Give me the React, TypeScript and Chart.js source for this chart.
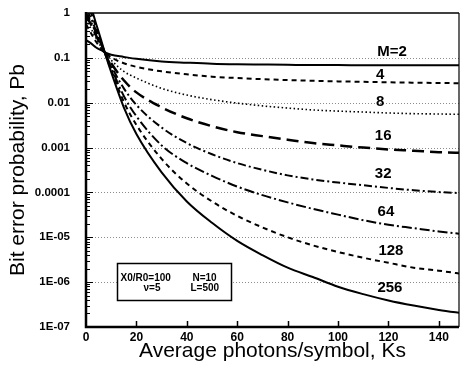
import React, { useEffect, useRef } from 'react';
import { Chart, registerables } from 'chart.js';

Chart.register(...registerables);

// Average photons per symbol (Ks)
const photons = [0, 2, 4, 6, 8, 10, 15, 20, 30, 40, 50, 60, 70, 80, 90, 100, 110, 120, 130, 140, 150];

// Bit error probability for each alphabet size M
const pbM2 = [0.25, 0.21, 0.17, 0.148, 0.129, 0.117, 0.105, 0.095, 0.083, 0.078, 0.074, 0.072, 0.071, 0.07, 0.069, 0.069, 0.068, 0.068, 0.068, 0.068, 0.068];
const pbM4 = [0.56, 0.355, 0.229, 0.162, 0.126, 0.102, 0.076, 0.063, 0.05, 0.043, 0.038, 0.0355, 0.0335, 0.032, 0.0309, 0.0299, 0.0292, 0.0285, 0.028, 0.0275, 0.0272];
const pbM8 = [0.71, 0.447, 0.275, 0.174, 0.12, 0.089, 0.05, 0.0355, 0.0209, 0.0148, 0.0117, 0.0098, 0.0085, 0.0076, 0.0069, 0.0065, 0.0062, 0.0059, 0.0057, 0.0056, 0.0055];
const pbM16 = [0.89, 0.55, 0.316, 0.186, 0.117, 0.076, 0.0316, 0.017, 0.0079, 0.0045, 0.003, 0.0022, 0.0018, 0.0015, 0.00126, 0.00112, 0.001, 0.00091, 0.00085, 0.00079, 0.00076];
const pbM32 = [1.0, 0.63, 0.355, 0.2, 0.112, 0.066, 0.0209, 0.0089, 0.0028, 0.00126, 0.00071, 0.00045, 0.00032, 0.00024, 0.000195, 0.000166, 0.000145, 0.000126, 0.000112, 0.000102, 0.000096];
const pbM64 = [1.26, 0.76, 0.4, 0.209, 0.11, 0.06, 0.0141, 0.005, 0.00112, 0.00045, 0.000234, 0.000135, 8.7e-5, 6.0e-5, 4.3e-5, 3.2e-5, 2.4e-5, 1.9e-5, 1.6e-5, 1.35e-5, 1.17e-5];
const pbM128 = [1.58, 1.0, 0.48, 0.224, 0.107, 0.054, 0.0105, 0.0032, 0.00056, 0.000158, 6.3e-5, 3.0e-5, 1.66e-5, 1.0e-5, 6.6e-6, 4.7e-6, 3.5e-6, 2.7e-6, 2.1e-6, 1.8e-6, 1.5e-6];
const pbM256 = [2.0, 1.32, 0.575, 0.251, 0.105, 0.048, 0.0079, 0.002, 0.00028, 6.3e-5, 2.1e-5, 8.3e-6, 4.0e-6, 2.1e-6, 1.3e-6, 7.9e-7, 5.4e-7, 3.9e-7, 3.0e-7, 2.4e-7, 2.0e-7];

const seriesNames = ['M=2', '4', '8', '16', '32', '64', '128', '256'];
const seriesValues = [pbM2, pbM4, pbM8, pbM16, pbM32, pbM64, pbM128, pbM256];

// Curve label anchors (data coordinates)
const labelAtX = [121.4, 116.7, 116.7, 117.9, 117.9, 119, 121, 120.6];
const labelAtY = [0.133, 0.041, 0.0103, 0.0018, 0.000256, 3.6e-5, 4.9e-6, 7.4e-7];

// Axis tick labels
const yTickLabels = ['1', '0.1', '0.01', '0.001', '0.0001', '1E-05', '1E-06', '1E-07'];
const xTickStep = 20;

// Parameter note
const noteRow1 = ['X0/R0=100', 'N=10'];
const noteRow2 = ['\u03bd=5', 'L=500'];

// Styles
const lineWidths = [2, 2, 1.6, 2.5, 2, 2, 2, 2];
const lineDashes: number[][] = [[], [5, 4], [1.5, 2.5], [12, 6], [8, 3, 2, 3], [10, 3, 2, 3], [5, 4], []];

const FONT = '"Liberation Sans", Arial, sans-serif';

const decorPlugin = {
  id: 'decor',
  beforeDatasetsDraw(chart: any) {
    const { ctx, chartArea: a, scales } = chart;
    const y = scales.y;
    ctx.save();
    ctx.strokeStyle = '#8c8c8c';
    ctx.lineWidth = 1;
    ctx.setLineDash([1, 2]);
    for (let e = -6; e <= -1; e++) {
      const py = Math.round(y.getPixelForValue(Math.pow(10, e))) + 0.5;
      ctx.beginPath();
      ctx.moveTo(a.left, py);
      ctx.lineTo(a.right, py);
      ctx.stroke();
    }
    ctx.restore();
  },
  afterDatasetsDraw(chart: any) {
    const { ctx, chartArea: a, scales } = chart;
    const x = scales.x;
    const y = scales.y;
    ctx.save();
    ctx.setLineDash([]);
    ctx.strokeStyle = '#000';
    // y minor ticks (inside)
    ctx.lineWidth = 1;
    for (let e = -7; e <= -1; e++) {
      for (let k = 1; k <= 9; k++) {
        const py = Math.round(y.getPixelForValue(k * Math.pow(10, e))) + 0.5;
        const len = k === 1 ? 7 : 4;
        ctx.beginPath();
        ctx.moveTo(a.left, py);
        ctx.lineTo(a.left + len, py);
        ctx.stroke();
      }
    }
    // x ticks (inside)
    ctx.lineWidth = 1.5;
    for (let v = xTickStep; v < x.max; v += xTickStep) {
      const px = Math.round(x.getPixelForValue(v)) + 0.5;
      ctx.beginPath();
      ctx.moveTo(px, a.bottom);
      ctx.lineTo(px, a.bottom - 6);
      ctx.stroke();
    }
    // frame
    ctx.lineWidth = 1.5;
    ctx.beginPath();
    ctx.moveTo(a.left, a.top);
    ctx.lineTo(a.right, a.top);
    ctx.stroke();
    ctx.lineWidth = 1.2;
    ctx.beginPath();
    ctx.moveTo(a.right, a.top);
    ctx.lineTo(a.right, a.bottom);
    ctx.stroke();
    ctx.lineWidth = 2.5;
    ctx.beginPath();
    ctx.moveTo(a.left, a.top - 1);
    ctx.lineTo(a.left, a.bottom);
    ctx.lineTo(a.right, a.bottom);
    ctx.stroke();

    // curve labels
    ctx.fillStyle = '#000';
    ctx.font = `bold 15px ${FONT}`;
    ctx.textAlign = 'center';
    ctx.textBaseline = 'middle';
    seriesNames.forEach((n, i) => {
      ctx.fillText(n, x.getPixelForValue(labelAtX[i]), y.getPixelForValue(labelAtY[i]));
    });

    // note box
    const bx = Math.round(x.getPixelForValue(12.3)) + 0.5;
    const by = Math.round(y.getPixelForValue(2.7e-6)) + 0.5;
    const bw = 114;
    const bh = 37;
    ctx.fillStyle = '#fff';
    ctx.fillRect(bx, by, bw, bh);
    ctx.lineWidth = 1.5;
    ctx.strokeRect(bx, by, bw, bh);
    ctx.fillStyle = '#000';
    ctx.font = `bold 10px ${FONT}`;
    ctx.textAlign = 'left';
    ctx.fillText(noteRow1[0], bx + 3, by + 14.5);
    ctx.fillText(noteRow1[1], bx + 75, by + 14.5);
    ctx.fillText(noteRow2[0], bx + 26, by + 24.5);
    ctx.fillText(noteRow2[1], bx + 73, by + 24.5);
    ctx.restore();
  },
};

export default function App() {
  const ref = useRef<HTMLCanvasElement | null>(null);

  useEffect(() => {
    document.body.style.margin = '0';
    const canvas = ref.current;
    if (!canvas) return;
    const chart = new Chart(canvas, {
      type: 'line',
      data: {
        datasets: seriesValues.map((vals, i) => ({
          label: seriesNames[i],
          data: photons.map((p, j) => ({ x: p, y: vals[j] })),
          borderColor: '#000',
          backgroundColor: '#000',
          borderWidth: lineWidths[i],
          borderDash: lineDashes[i],
          pointRadius: 0,
          fill: false,
          cubicInterpolationMode: 'monotone' as const,
        })),
      },
      options: {
        responsive: false,
        animation: false,
        layout: { padding: { top: 13, right: 2, left: 0, bottom: 0 } },
        plugins: { legend: { display: false }, tooltip: { enabled: false } },
        scales: {
          x: {
            type: 'linear',
            min: 0,
            max: 148,
            afterFit: (s: any) => {
              s.height = 40;
              s.paddingLeft = 0;
              s.paddingRight = 0;
            },
            grid: { display: false, drawTicks: false },
            border: { display: false },
            ticks: {
              stepSize: xTickStep,
              includeBounds: false,
              padding: 3,
              color: '#000',
              font: { family: FONT, size: 12, weight: 'bold' },
            },
            title: {
              display: true,
              text: 'Average photons/symbol, Ks',
              color: '#000',
              font: { family: FONT, size: 21 },
              padding: { top: 0, bottom: 3 },
            },
          },
          y: {
            type: 'logarithmic',
            min: 1e-7,
            max: 1,
            afterFit: (s: any) => {
              s.width = 86;
              s.paddingTop = 0;
              s.paddingBottom = 0;
            },
            grid: { display: false, drawTicks: false },
            border: { display: false },
            ticks: {
              autoSkip: false,
              padding: 16,
              color: '#000',
              font: { family: FONT, size: 11.5, weight: 'bold' },
              callback: (value: any) => {
                const e = Math.log10(Number(value));
                const r = Math.round(e);
                if (Math.abs(e - r) < 1e-6 && r <= 0 && r >= -7) return yTickLabels[-r];
                return '';
              },
            },
            title: {
              display: true,
              text: 'Bit error probability, Pb',
              color: '#000',
              font: { family: FONT, size: 21 },
              padding: { top: 6, bottom: 0 },
            },
          },
        },
      },
      plugins: [decorPlugin],
    } as any);
    return () => chart.destroy();
  }, []);

  return <canvas ref={ref} width={461} height={367} style={{ display: 'block' }} />;
}
